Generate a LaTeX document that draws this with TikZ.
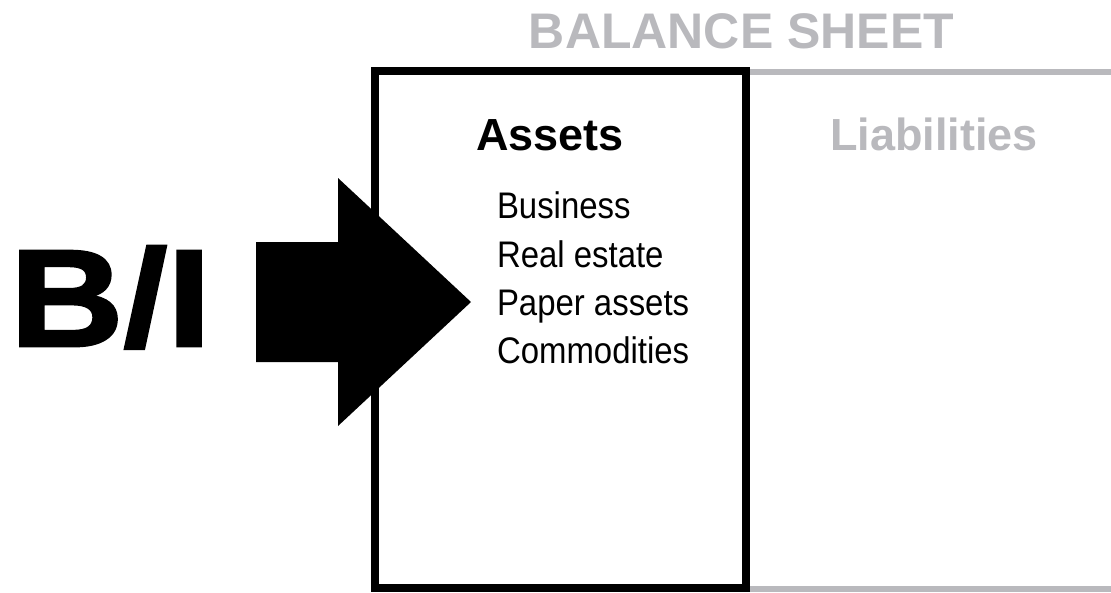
\documentclass[tikz,border=0pt]{standalone}
\usepackage{fontspec}
\setmainfont{Liberation Sans}
\newfontfamily\hvb[FakeBold=2,FakeStretch=1.14]{Liberation Sans Bold}
\newfontfamily\hvcond[FakeStretch=0.89]{Liberation Sans}
\definecolor{sheetgrey}{HTML}{B9B9BD}
\tikzset{
  lbl/.style={inner sep=0pt, outer sep=0pt},
  itemtxt/.style={lbl, anchor=base west, font=\hvcond\fontsize{37}{44}\selectfont},
  headtxt/.style={lbl, anchor=base west, font=\bfseries\fontsize{45}{52}\selectfont},
}
\begin{document}
\begin{tikzpicture}[x=1pt,y=-1pt]
\useasboundingbox (0,0) rectangle (1111,592);
\fill[white] (0,0) rectangle (1111,592);
% title
\node[lbl, anchor=base, text=sheetgrey, font=\bfseries\fontsize{50}{60}\selectfont] (title) at (741.5,48) {BALANCE SHEET};
% grey liabilities frame lines
\draw[sheetgrey, line width=6pt] (746,72) -- (1111,72);
\draw[sheetgrey, line width=6pt] (746,588.5) -- (1111,588.5);
% assets box
\draw[black, line width=8pt] (375,71) rectangle (746,588);
% headings
\node[headtxt] (assets) at (476,150) {Assets};
\node[headtxt, text=sheetgrey] (liab) at (830,150) {Liabilities};
% items
\node[itemtxt] (i1) at (497,218) {Business};
\node[itemtxt] (i2) at (497,267) {Real estate};
\node[itemtxt] (i3) at (497,315) {Paper assets};
\node[itemtxt] (i4) at (497,363) {Commodities};
% B/I
\node[lbl, anchor=base west, font=\hvb\fontsize{138}{150}\selectfont] (bi) at (10,346) {B/I};
% big arrow
\fill[black] (256,242) -- (338,242) -- (338,178) -- (471,302) -- (338,426) -- (338,362) -- (256,362) -- cycle;
\end{tikzpicture}
\end{document}
